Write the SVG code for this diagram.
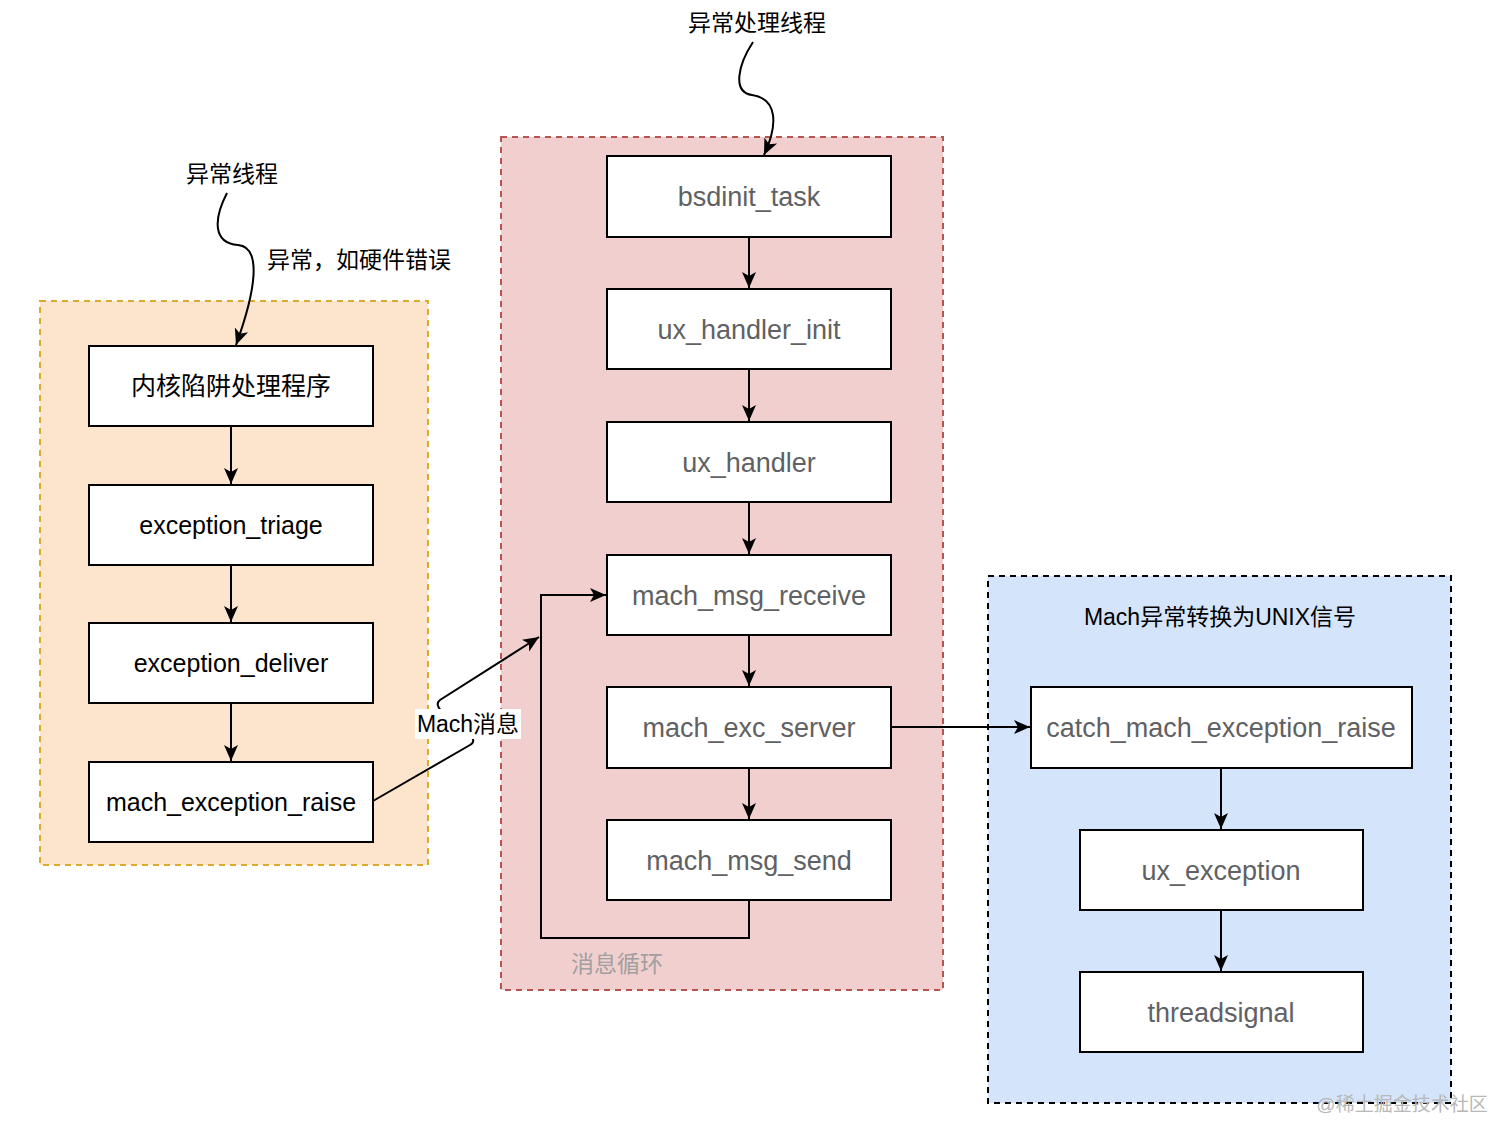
<svg xmlns="http://www.w3.org/2000/svg" width="1512" height="1145" viewBox="0 0 1512 1145">
<defs>
<marker id="arr" markerWidth="17" markerHeight="16" refX="16" refY="8" orient="auto" markerUnits="userSpaceOnUse" viewBox="0 0 17 16">
<path d="M0,1 L16,8 L0,15 L4,8 Z" fill="#000"/>
</marker>
<style>
.node{fill:#fff;stroke:#000;stroke-width:2}
.t{font-family:"Liberation Sans","Noto Sans CJK SC",sans-serif;text-anchor:middle;dominant-baseline:central}
.lt{font-size:25px;fill:#000}
.mt{font-size:27px;fill:#5f6164}
.lbl{font-family:"Liberation Sans","Noto Sans CJK SC",sans-serif;font-size:23px;fill:#000}
.edge{fill:none;stroke:#000;stroke-width:2}
</style>
</defs>
<rect width="1512" height="1145" fill="#fff"/>
<g id="containers">
<rect x="40" y="301" width="388" height="564" fill="#fde5cd" stroke="#dcaa2c" stroke-width="2" stroke-dasharray="6,5"/>
<rect x="501" y="137" width="442" height="853" fill="#f2cfcf" stroke="#b85450" stroke-width="2" stroke-dasharray="6,5"/>
<rect x="988" y="576" width="463" height="527" fill="#d4e4fa" stroke="#000" stroke-width="2" stroke-dasharray="6,5"/>
<text class="lbl" x="617" y="964" text-anchor="middle" dominant-baseline="central" style="fill:#a0a0a0">消息循环</text>
<text class="lbl" x="1220" y="617" text-anchor="middle" dominant-baseline="central">Mach异常转换为UNIX信号</text>
</g>
<g id="connectors">
<line class="edge" x1="231" y1="426" x2="231" y2="484" marker-end="url(#arr)"/>
<line class="edge" x1="231" y1="565" x2="231" y2="622" marker-end="url(#arr)"/>
<line class="edge" x1="231" y1="703" x2="231" y2="761" marker-end="url(#arr)"/>
<line class="edge" x1="749" y1="237" x2="749" y2="288" marker-end="url(#arr)"/>
<line class="edge" x1="749" y1="369" x2="749" y2="421" marker-end="url(#arr)"/>
<line class="edge" x1="749" y1="502" x2="749" y2="554" marker-end="url(#arr)"/>
<line class="edge" x1="749" y1="635" x2="749" y2="686" marker-end="url(#arr)"/>
<line class="edge" x1="749" y1="768" x2="749" y2="819" marker-end="url(#arr)"/>
<polyline class="edge" points="749,900 749,938 541,938 541,595 606,595" marker-end="url(#arr)"/>
<line class="edge" x1="891" y1="727" x2="1030" y2="727" marker-end="url(#arr)"/>
<line class="edge" x1="1221" y1="768" x2="1221" y2="829" marker-end="url(#arr)"/>
<line class="edge" x1="1221" y1="910" x2="1221" y2="971" marker-end="url(#arr)"/>
<path class="edge" d="M753,42 C738,65 732,92 752,95 C778,99 778,125 764,155" marker-end="url(#arr)"/>
<path class="edge" d="M227,193 C214,218 212,243 238,245 C262,247 256,290 236,345" marker-end="url(#arr)"/>
<path class="edge" d="M373,801 L470,745 C488,735 425,712 440,700 L539,637" marker-end="url(#arr)"/>
<rect x="415" y="709" width="106" height="30" fill="#fff"/>
<text class="lbl" x="468" y="724" text-anchor="middle" dominant-baseline="central">Mach消息</text>
<text class="lbl" x="757" y="23" text-anchor="middle" dominant-baseline="central">异常处理线程</text>
<text class="lbl" x="232" y="174" text-anchor="middle" dominant-baseline="central">异常线程</text>
<text class="lbl" x="267" y="260" dominant-baseline="central">异常，如硬件错误</text>
</g>
<g id="n-trap"><rect class="node" x="89" y="346" width="284" height="80"/><text class="t lt" x="231" y="386">内核陷阱处理程序</text></g>
<g id="n-triage"><rect class="node" x="89" y="485" width="284" height="80"/><text class="t lt" x="231" y="525">exception_triage</text></g>
<g id="n-deliver"><rect class="node" x="89" y="623" width="284" height="80"/><text class="t lt" x="231" y="663">exception_deliver</text></g>
<g id="n-raise"><rect class="node" x="89" y="762" width="284" height="80"/><text class="t lt" x="231" y="802">mach_exception_raise</text></g>
<g id="n-bsdinit"><rect class="node" x="607" y="156" width="284" height="81"/><text class="t mt" x="749" y="197">bsdinit_task</text></g>
<g id="n-uxinit"><rect class="node" x="607" y="289" width="284" height="80"/><text class="t mt" x="749" y="330">ux_handler_init</text></g>
<g id="n-uxh"><rect class="node" x="607" y="422" width="284" height="80"/><text class="t mt" x="749" y="463">ux_handler</text></g>
<g id="n-recv"><rect class="node" x="607" y="555" width="284" height="80"/><text class="t mt" x="749" y="596">mach_msg_receive</text></g>
<g id="n-exc"><rect class="node" x="607" y="687" width="284" height="81"/><text class="t mt" x="749" y="728">mach_exc_server</text></g>
<g id="n-send"><rect class="node" x="607" y="820" width="284" height="80"/><text class="t mt" x="749" y="861">mach_msg_send</text></g>
<g id="n-catch"><rect class="node" x="1031" y="687" width="381" height="81"/><text class="t mt" x="1221" y="728">catch_mach_exception_raise</text></g>
<g id="n-uxexc"><rect class="node" x="1080" y="830" width="283" height="80"/><text class="t mt" x="1221" y="871">ux_exception</text></g>
<g id="n-sig"><rect class="node" x="1080" y="972" width="283" height="80"/><text class="t mt" x="1221" y="1013">threadsignal</text></g>
<text x="1402" y="1104" font-family="Liberation Sans,Noto Sans CJK SC,sans-serif" font-size="19" fill="#b8b8b8" text-anchor="middle" dominant-baseline="central">@稀土掘金技术社区</text>
</svg>
